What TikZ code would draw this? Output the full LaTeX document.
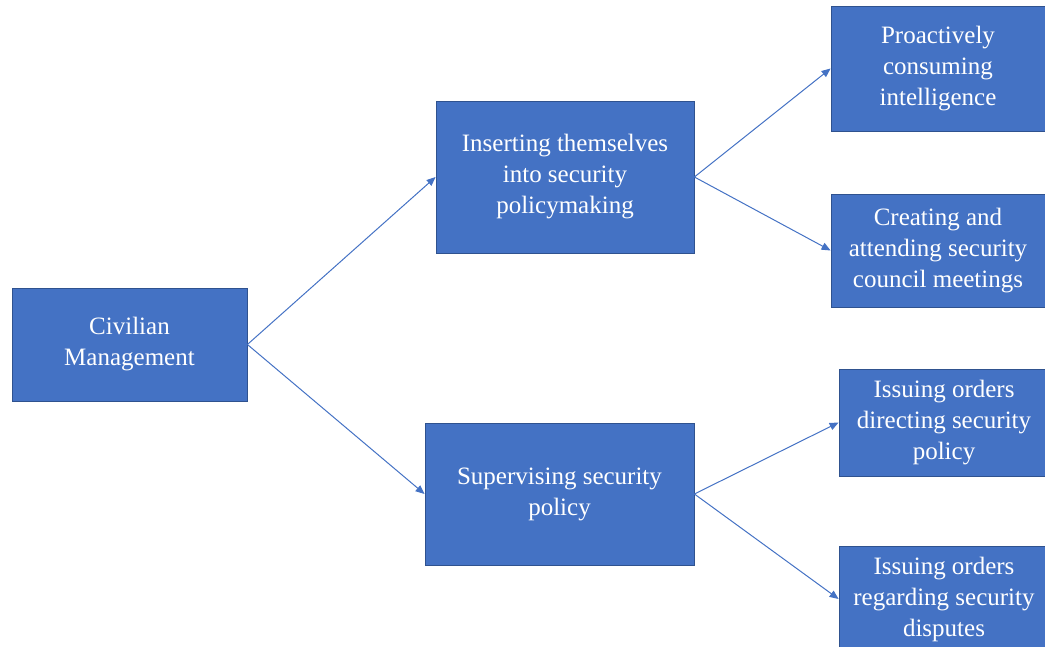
\documentclass[tikz,border=0pt]{standalone}
\usepackage{fontspec}
\setmainfont{Liberation Serif}
\usetikzlibrary{arrows.meta}
\definecolor{boxfill}{HTML}{4472C4}
\definecolor{boxline}{HTML}{2F528F}
\definecolor{arrowcol}{HTML}{4472C4}
\begin{document}
\begin{tikzpicture}[x=1pt,y=-1pt,
  blockbox/.style={draw=boxline, line width=0.8pt, fill=boxfill, text=white,
    align=center, inner sep=0pt, font=\fontsize{25}{31}\selectfont},
  link/.style={draw=arrowcol, line width=1pt, -{Triangle[length=9pt,width=7.5pt]}}]
\useasboundingbox (0,0) rectangle (1045,647);
\clip (0,0) rectangle (1045,647);
\node[blockbox, minimum width=235pt, minimum height=113pt] (civ) at (129.5,344.5) {Civilian\\Management};
\node[blockbox, minimum width=258pt, minimum height=152pt] (ins) at (565,177) {Inserting themselves\\into security\\policymaking};
\node[blockbox, minimum width=269pt, minimum height=142pt] (sup) at (559.5,494) {Supervising security\\policy};
\node[blockbox, minimum width=214pt, minimum height=125pt] (pro) at (938,68.5) {Proactively\\consuming\\intelligence};
\node[blockbox, minimum width=214pt, minimum height=113pt] (cre) at (938,250.5) {Creating and\\attending security\\council meetings};
\node[blockbox, minimum width=210pt, minimum height=107pt] (dir) at (944,422.5) {Issuing orders\\directing security\\policy};
\node[blockbox, minimum width=210pt, minimum height=106pt] (dis) at (944,599) {Issuing orders\\regarding security\\disputes};
\draw[link] (civ.east) -- (ins.west);
\draw[link] (civ.east) -- (sup.west);
\draw[link] (ins.east) -- (pro.west);
\draw[link] (ins.east) -- (cre.west);
\draw[link] (sup.east) -- (dir.west);
\draw[link] (sup.east) -- (dis.west);
\end{tikzpicture}
\end{document}
